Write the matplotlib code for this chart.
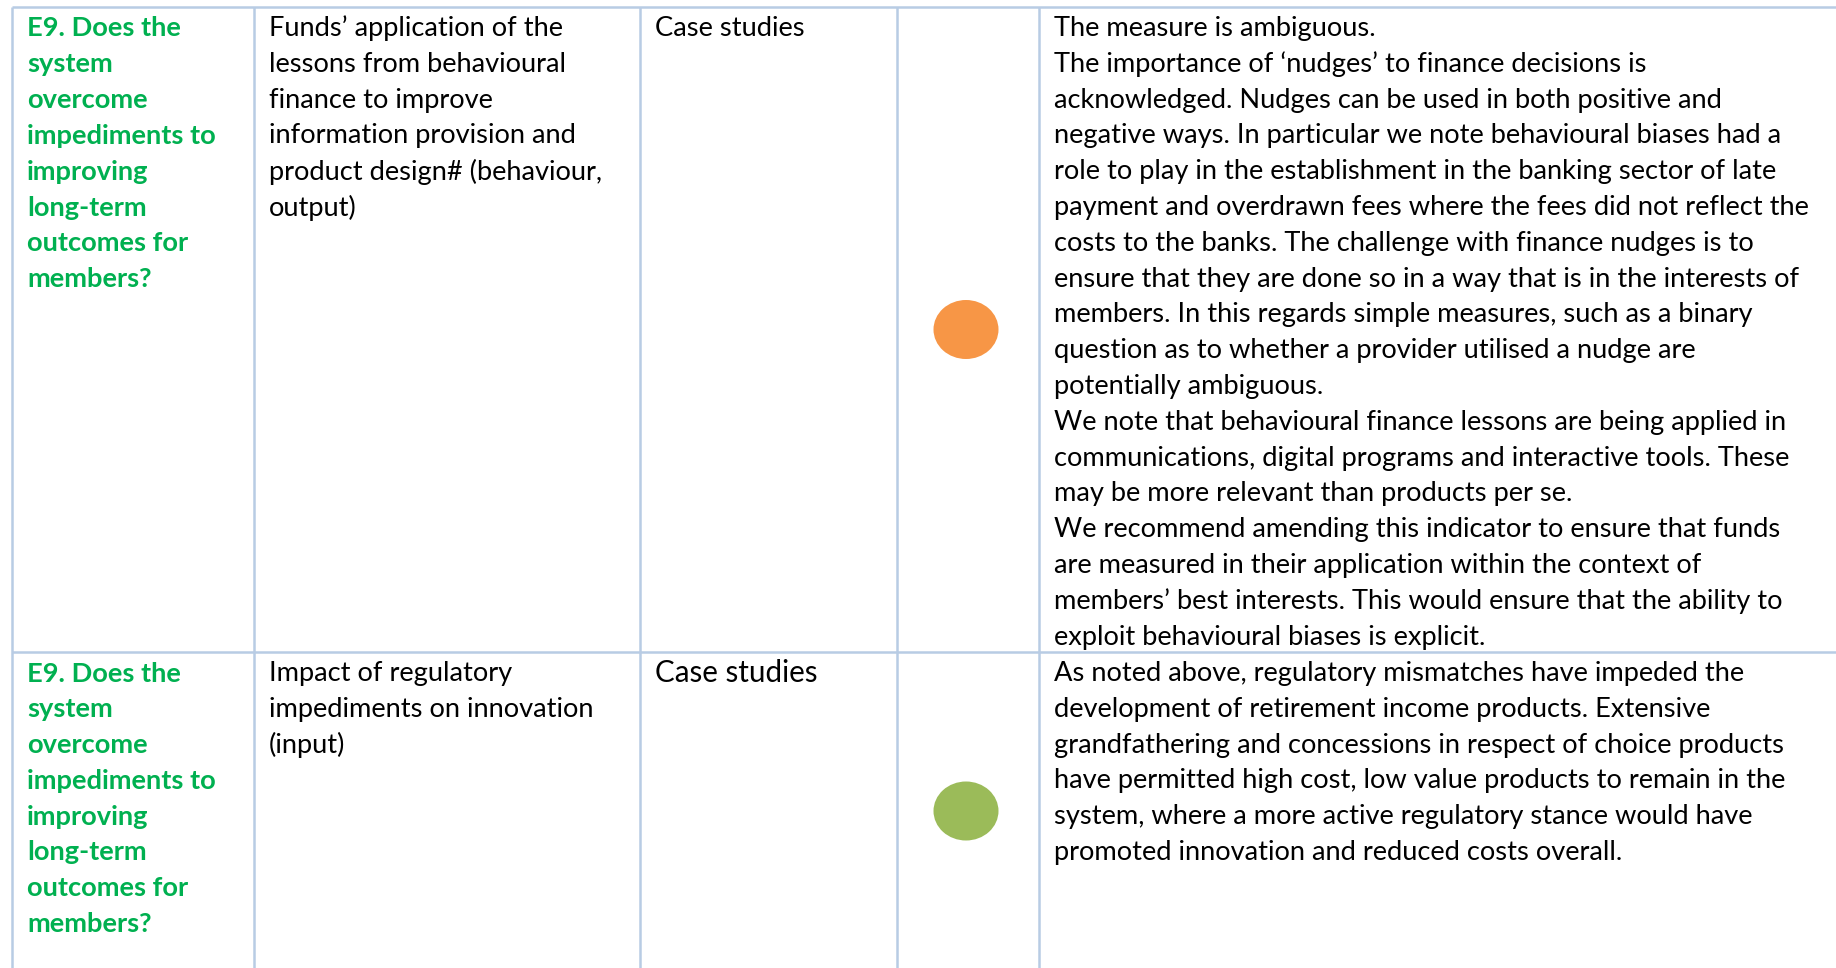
"""Rebuild the E9 assessment table as a matplotlib figure."""

import matplotlib.pyplot as plt
from matplotlib.patches import Ellipse

# table content
questions = [
    ["E9. Does the", "system", "overcome", "impediments to", "improving",
     "long-term", "outcomes for", "members?"],
    ["E9. Does the", "system", "overcome", "impediments to", "improving",
     "long-term", "outcomes for", "members?"],
]
indicators = [
    ["Funds\u2019 application of the", "lessons from behavioural", "finance to improve",
     "information provision and", "product design# (behaviour,", "output)"],
    ["Impact of regulatory", "impediments on innovation", "(input)"],
]
sources = ["Case studies", "Case studies"]
ratings = ["amber", "green"]
comments = [
    [
        "The measure is ambiguous.",
        "The importance of \u2018nudges\u2019 to finance decisions is",
        "acknowledged. Nudges can be used in both positive and",
        "negative ways. In particular we note behavioural biases had a",
        "role to play in the establishment in the banking sector of late",
        "payment and overdrawn fees where the fees did not reflect the",
        "costs to the banks. The challenge with finance nudges is to",
        "ensure that they are done so in a way that is in the interests of",
        "members. In this regards simple measures, such as a binary",
        "question as to whether a provider utilised a nudge are",
        "potentially ambiguous.",
        "We note that behavioural finance lessons are being applied in",
        "communications, digital programs and interactive tools. These",
        "may be more relevant than products per se.",
        "We recommend amending this indicator to ensure that funds",
        "are measured in their application within the context of",
        "members\u2019 best interests. This would ensure that the ability to",
        "exploit behavioural biases is explicit.",
    ],
    [
        "As noted above, regulatory mismatches have impeded the",
        "development of retirement income products. Extensive",
        "grandfathering and concessions in respect of choice products",
        "have permitted high cost, low value products to remain in the",
        "system, where a more active regulatory stance would have",
        "promoted innovation and reduced costs overall.",
    ],
]

RATING_COLORS = {"amber": "#F79646", "green": "#9BBB59"}
BORDER = "#B8CCE4"
GREEN_TEXT = "#00B050"
FONT = "Lato"

W, H = 1836, 968
col_edges = [12, 254, 640, 897, 1039, W + 5]
row_edges = [7, 652, 970]
text_pad = 15
first_line = 21.5
line_step = 35.8
font_size = 19.6

fig = plt.figure(figsize=(W / 100, H / 100), dpi=100)
ax = fig.add_axes([0, 0, 1, 1])
ax.set_xlim(0, W)
ax.set_ylim(H, 0)
ax.axis("off")

# grid lines
for y in row_edges[:-1]:
    ax.plot([col_edges[0], W], [y, y], color=BORDER, linewidth=1.8, solid_capstyle="butt")
for x in col_edges[:-1]:
    ax.plot([x, x], [row_edges[0], H], color=BORDER, linewidth=1.8, solid_capstyle="butt")

for r in range(len(questions)):
    top = row_edges[r]
    mid = (row_edges[r] + row_edges[r + 1]) / 2
    for i, line in enumerate(questions[r]):
        ax.text(col_edges[0] + text_pad, top + first_line + i * line_step, line,
                ha="left", va="center", family=FONT, fontsize=font_size,
                fontweight="bold", color=GREEN_TEXT)
    for i, line in enumerate(indicators[r]):
        ax.text(col_edges[1] + text_pad, top + first_line + i * line_step, line,
                ha="left", va="center", family=FONT, fontsize=font_size, color="black")
    # second row's source is set a touch larger in the original
    src_size = font_size if r == 0 else font_size * 1.09
    ax.text(col_edges[2] + text_pad, top + first_line, sources[r],
            ha="left", va="center", family=FONT, fontsize=src_size, color="black")
    cx = (col_edges[3] + col_edges[4]) / 2
    ax.add_patch(Ellipse((cx - 2, mid), 65, 59, facecolor=RATING_COLORS[ratings[r]],
                         edgecolor="none"))
    for i, line in enumerate(comments[r]):
        ax.text(col_edges[4] + text_pad, top + first_line + i * line_step, line,
                ha="left", va="center", family=FONT, fontsize=font_size, color="black")

fig.savefig("out.png", dpi=100, facecolor="white")
